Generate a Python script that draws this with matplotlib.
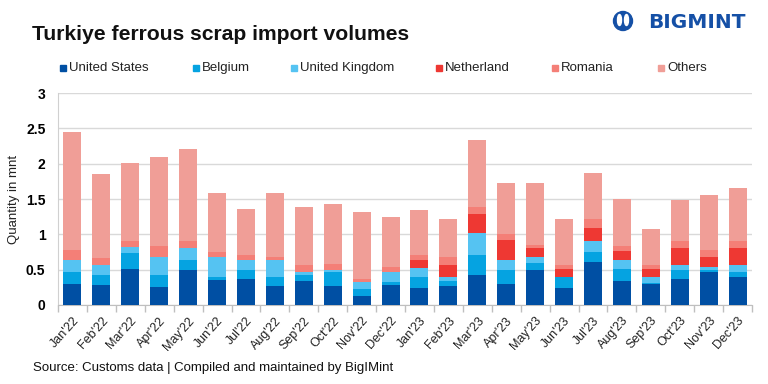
import matplotlib
matplotlib.use("Agg")
import matplotlib.pyplot as plt
from matplotlib.patches import Rectangle, Ellipse
import numpy as np

months = ["Jan'22", "Feb'22", "Mar'22", "Apr'22", "May'22", "Jun'22", "Jul'22", "Aug'22",
          "Sep'22", "Oct'22", "Nov'22", "Dec'22", "Jan'23", "Feb'23", "Mar'23", "Apr'23",
          "May'23", "Jun'23", "Jul'23", "Aug'23", "Sep'23", "Oct'23", "Nov'23", "Dec'23"]

united_states = [0.30, 0.29, 0.51, 0.26, 0.49, 0.36, 0.37, 0.27, 0.34, 0.27, 0.13, 0.29,
                 0.245, 0.27, 0.43, 0.30, 0.49, 0.245, 0.61, 0.34, 0.30, 0.37, 0.46, 0.40]
belgium = [0.17, 0.14, 0.22, 0.16, 0.15, 0.04, 0.12, 0.12, 0.09, 0.20, 0.09, 0.04,
           0.155, 0.07, 0.28, 0.19, 0.11, 0.145, 0.14, 0.17, 0.01, 0.13, 0.04, 0.07]
united_kingdom = [0.17, 0.14, 0.09, 0.26, 0.17, 0.28, 0.15, 0.24, 0.04, 0.02, 0.10, 0.13,
                  0.13, 0.05, 0.31, 0.14, 0.08, 0.01, 0.16, 0.13, 0.08, 0.06, 0.04, 0.09]
netherland = [0.00, 0.00, 0.00, 0.00, 0.00, 0.00, 0.00, 0.00, 0.00, 0.00, 0.00, 0.00,
              0.10, 0.18, 0.27, 0.29, 0.12, 0.11, 0.18, 0.13, 0.12, 0.25, 0.14, 0.24]
romania = [0.14, 0.10, 0.09, 0.15, 0.10, 0.07, 0.07, 0.05, 0.10, 0.09, 0.05, 0.08,
           0.08, 0.11, 0.09, 0.09, 0.05, 0.06, 0.12, 0.06, 0.06, 0.09, 0.10, 0.10]
others = [1.67, 1.19, 1.10, 1.27, 1.30, 0.84, 0.65, 0.91, 0.81, 0.85, 0.95, 0.71,
          0.64, 0.53, 0.95, 0.72, 0.87, 0.65, 0.66, 0.67, 0.50, 0.59, 0.78, 0.76]

series_names = ["United States", "Belgium", "United Kingdom", "Netherland", "Romania", "Others"]
series_values = [united_states, belgium, united_kingdom, netherland, romania, others]
colors = ["#004FA3", "#05A3E1", "#55C3F2", "#EE3833", "#F47F77", "#F09E97"]

yticks = [0, 0.5, 1, 1.5, 2, 2.5, 3]
ytick_labels = ["0", "0.5", "1", "1.5", "2", "2.5", "3"]

arial = ["Liberation Sans", "DejaVu Sans"]
plt.rcParams['font.family'] = arial

fig = plt.figure(figsize=(7.68, 3.84), dpi=100)
ax = fig.add_axes([58/768, 1-305/384, (752-58)/768, (305-93)/384])

x = np.arange(len(months))
bottom = np.zeros(len(months))
for name, vals, c in zip(series_names, series_values, colors):
    v = np.array(vals)
    ax.bar(x, v, width=0.62, bottom=bottom, color=c, label=name, zorder=3, linewidth=0)
    bottom += v

ax.set_xlim(-0.5, len(months)-0.5)
ax.set_ylim(0, 3)
ax.set_yticks(yticks)
ax.set_yticklabels(ytick_labels, fontsize=10, fontweight='bold')
ax.tick_params(axis='y', length=0, pad=9)
ax.yaxis.grid(True, color="#D9D9D9", linewidth=1, zorder=0)
ax.set_xticks(x)
ax.set_xticklabels(months, rotation=48, ha='right', rotation_mode='anchor', fontsize=9, color="#222222")
ax.tick_params(axis='x', length=0, pad=7)
ax.set_xticks(np.arange(-0.5, len(months), 1), minor=True)
ax.tick_params(axis='x', which='minor', length=5, color="#BFBFBF", width=1)
for s in ["top", "right"]:
    ax.spines[s].set_visible(False)
ax.spines["left"].set_color("#D0D0D0")
ax.spines["bottom"].set_color("#BFBFBF")
ax.set_ylabel("Quantity in mnt", fontsize=9.5, labelpad=4, color="#222222")

# Title
fig.text(32/768, 1-35/384, "Turkiye ferrous scrap import volumes", fontsize=15.2, fontweight='bold',
         va='center', ha='left', color="#111111")

# Legend
leg_x = [60, 193, 291, 436, 552, 658]
for lx, name, c in zip(leg_x, series_names, colors):
    fig.patches.append(Rectangle((lx/768, 1-71/384), 6/768, 6/384, transform=fig.transFigure,
                                 color=c, figure=fig))
    fig.text((lx+9)/768, 1-68/384, name, fontsize=9.5, va='center', ha='left', color="#222222")

# Source
fig.text(33/768, 1-368/384, "Source: Customs data | Compiled and maintained by BigIMint", fontsize=9.5,
         va='center', ha='left', color="#111111")

# Logo
logo_blue = "#1550A6"
cx, cy = 623/768, 1-21/384
fig.patches.append(Ellipse((cx, cy), 19/768, 19/384, transform=fig.transFigure, color=logo_blue, figure=fig))
fig.patches.append(Ellipse((cx-3.5/768, cy+1/384), 4/768, 11/384, transform=fig.transFigure, color="white", figure=fig))
fig.patches.append(Ellipse((cx+3.5/768, cy+1/384), 4/768, 11/384, transform=fig.transFigure, color="white", figure=fig))
fig.text(648/768, 1-23/384, "BIGMINT", fontsize=14.5, fontweight='bold', color=logo_blue,
         va='center', ha='left', family=["DejaVu Sans"])

fig.savefig("out.png", dpi=100)
